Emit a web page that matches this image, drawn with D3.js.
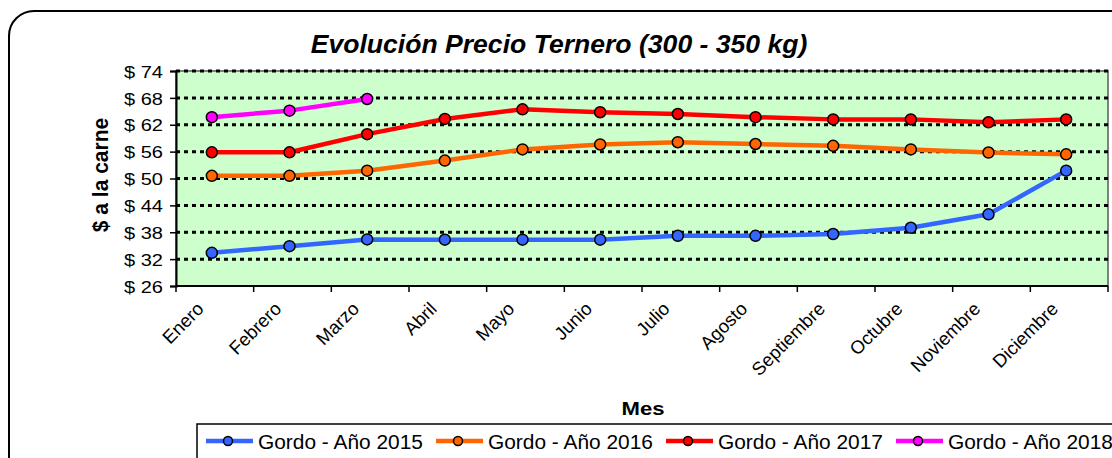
<!DOCTYPE html>
<html><head><meta charset="utf-8">
<script src="https://cdn.jsdelivr.net/npm/d3@7"></script>
<style>body{margin:0;background:#fff}svg{display:block;font-family:"Liberation Sans",Arial,sans-serif}</style>
</head><body>
<svg id="c" width="1112" height="458"></svg>
<script>
const months = ["Enero","Febrero","Marzo","Abril","Mayo","Junio","Julio","Agosto","Septiembre","Octubre","Noviembre","Diciembre"];
const yTicks = [26,32,38,44,50,56,62,68,74];
const seriesNames = ["Gordo - Año 2015","Gordo - Año 2016","Gordo - Año 2017","Gordo - Año 2018"];
const v2015 = [33.4,34.9,36.4,36.35,36.35,36.35,37.2,37.2,37.6,39.0,42.0,51.75];
const v2016 = [50.6,50.6,51.75,54.0,56.5,57.6,58.1,57.7,57.3,56.5,55.8,55.4];
const v2017 = [55.85,55.85,59.9,63.3,65.45,64.8,64.4,63.7,63.2,63.2,62.55,63.2];
const v2018 = [63.7,65.15,67.75];
const colors = ["#3366FF","#FF6600","#FF0000","#FF00FF"];
const title = "Evolución Precio Ternero (300 - 350 kg)";
const yTitle = "$ a la carne";
const xTitle = "Mes";

const svg = d3.select("#c");
const L=176, R=1108, T=71, B=286;

function fitW(sel, base, target){
  const w = sel.node().getBBox().width;
  const s = target / w;
  sel.attr("transform", `${base} scale(${s},1)`);
  return s;
}

// outer rounded frame
svg.append("rect").attr("x",9).attr("y",11).attr("width",1130).attr("height",480).attr("rx",25)
  .attr("fill","#fff").attr("stroke","#000").attr("stroke-width",2);

const x = d3.scaleBand().domain(months).range([L,R]);
const y = d3.scaleLinear().domain([26,74]).range([B,T]);

// plot background
svg.append("rect").attr("x",L).attr("y",T).attr("width",R-L).attr("height",B-T)
  .attr("fill","#CCFFCC").attr("stroke","#808080").attr("stroke-width",2);

// gridlines
svg.append("g").selectAll("line").data(yTicks.filter(d=>d>26)).join("line")
  .attr("x1",L).attr("x2",R).attr("y1",d=>y(d)).attr("y2",d=>y(d))
  .attr("stroke","#000").attr("stroke-width",3).attr("stroke-dasharray","4,4");

// y axis
const ya = svg.append("g").attr("transform",`translate(${L},0)`)
  .call(d3.axisLeft(y).tickValues(yTicks).tickSize(6).tickFormat(d=>"$ "+d));
ya.select(".domain").attr("stroke","#000").attr("stroke-width",2);
ya.selectAll(".tick line").attr("stroke","#000").attr("stroke-width",1.5);
const tt = ya.selectAll(".tick text").attr("font-size",17).attr("fill","#000").attr("x",0).attr("dy","0.36em")
  .attr("text-anchor","end").attr("font-family","Liberation Sans, Arial, sans-serif");
const refW = tt.filter(d=>d===74).node().getBBox().width;
tt.attr("transform",`translate(-13,0) scale(${39/refW},1)`);

// x axis
const xa = svg.append("g").attr("transform",`translate(0,${B})`);
xa.append("line").attr("x1",L).attr("x2",R).attr("stroke","#000").attr("stroke-width",2);
const edges = months.map(m=>x(m)).concat([x(months[months.length-1])+x.bandwidth()]);
xa.selectAll("line.t").data(edges).join("line").attr("class","t")
  .attr("x1",d=>d).attr("x2",d=>d).attr("y1",0).attr("y2",6).attr("stroke","#000").attr("stroke-width",1.5);
xa.selectAll("text").data(months).join("text")
  .attr("transform",d=>`translate(${x(d)+x.bandwidth()/2-10},${24}) rotate(-45)`)
  .attr("text-anchor","end").attr("font-size",18.5).attr("fill","#000").text(d=>d);

// lines
const all = [v2015,v2016,v2017,v2018];
const px = i => x(months[i])+x.bandwidth()/2-3;
const line = d3.line().x((d,i)=>px(i)).y(d=>y(d));
all.forEach((vals,k)=>{
  const g = svg.append("g");
  g.append("path").datum(vals).attr("d",line).attr("fill","none")
    .attr("stroke",colors[k]).attr("stroke-width",4.5).attr("stroke-linejoin","round");
  g.selectAll("circle").data(vals).join("circle")
    .attr("cx",(d,i)=>px(i)).attr("cy",d=>y(d)).attr("r",5.5)
    .attr("fill",colors[k]).attr("stroke","#000").attr("stroke-width",1.5);
});

// title
const tEl = svg.append("text").attr("text-anchor","middle")
  .attr("font-size",26).attr("font-weight","bold").attr("font-style","italic").text(title);
fitW(tEl, "translate(559,53)", 497);
// y title
svg.append("text").attr("transform",`translate(108,175) scale(1.08,1) rotate(-90)`).attr("text-anchor","middle")
  .attr("font-size",21).attr("font-weight","bold").text(yTitle);
// x title
const mEl = svg.append("text").attr("text-anchor","middle")
  .attr("font-size",19).attr("font-weight","bold").text(xTitle);
fitW(mEl, "translate(643,415)", 43);

// legend
const lg = svg.append("g");
lg.append("rect").attr("x",197).attr("y",424).attr("width",1000).attr("height",60)
  .attr("fill","#fff").attr("stroke","#000").attr("stroke-width",1.5);
let legS = null;
seriesNames.forEach((n,k)=>{
  const x0 = 206 + k*230;
  lg.append("line").attr("x1",x0).attr("x2",x0+47).attr("y1",441).attr("y2",441)
    .attr("stroke",colors[k]).attr("stroke-width",4.5);
  lg.append("circle").attr("cx",x0+22).attr("cy",441).attr("r",4.5).attr("fill",colors[k])
    .attr("stroke","#000").attr("stroke-width",1.5);
  const te = lg.append("text").attr("font-size",20.5).attr("fill","#000").text(n);
  if (legS === null) legS = 165 / te.node().getBBox().width;
  te.attr("transform",`translate(${x0+52},449) scale(${legS},1)`);
});
</script>
</body></html>
